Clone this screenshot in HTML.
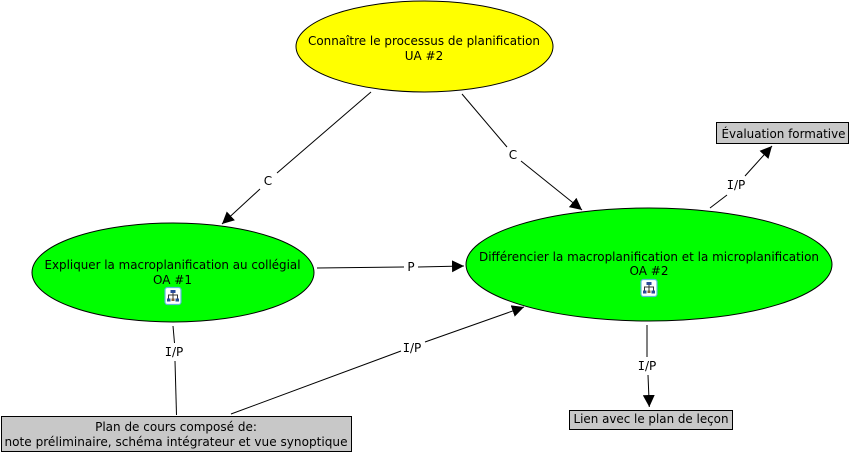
<!DOCTYPE html>
<html><head><meta charset="utf-8"><style>
html,body{margin:0;padding:0;background:#fff}
svg{display:block}
text{font-family:"DejaVu Sans","Liberation Sans",sans-serif;font-size:12px;fill:#000;text-anchor:middle}
tspan.i{font-family:"DejaVu Sans Mono","Liberation Mono",monospace}
</style></head><body>
<svg width="851" height="453" viewBox="0 0 851 453" xmlns="http://www.w3.org/2000/svg">
<defs>
<marker id="a" markerUnits="userSpaceOnUse" markerWidth="14" markerHeight="14" refX="12" refY="6" orient="auto"><path d="M0 0L12 6L0 12Z" fill="#000"/></marker>
<g id="ic">
<rect x="-8" y="-8.500" width="16" height="17" rx="2.500" fill="#fff" stroke="#5cb8d8" stroke-width="1.200"/>
<path d="M-4.500 3V-1H4.500V3M0-3V4" fill="none" stroke="#333" stroke-width="1"/>
<rect x="-2.500" y="-6" width="5" height="3" fill="#2a4a9a"/>
<rect x="-6" y="2.500" width="3.500" height="3" fill="#2a4a9a"/>
<rect x="2.500" y="2.500" width="3.500" height="3" fill="#2a4a9a"/>
<rect x="-1.500" y="2.500" width="3" height="2.500" fill="#8a5a3a"/>
</g>
</defs>
<ellipse cx="424.500" cy="46.500" rx="128.500" ry="45.500" fill="#ff0" stroke="#000"/>
<ellipse cx="173" cy="272.500" rx="141" ry="49.500" fill="#0f0" stroke="#000"/>
<ellipse cx="649" cy="264.500" rx="183" ry="56.500" fill="#0f0" stroke="#000"/>
<rect x="716.500" y="122.500" width="132" height="21" fill="#c8c8c8" stroke="#000"/>
<rect x="569.500" y="410.500" width="163" height="19" fill="#c8c8c8" stroke="#000"/>
<rect x="1.500" y="416.500" width="350" height="35" fill="#c8c8c8" stroke="#000"/>
<g stroke="#000" stroke-width="1" fill="none">
<path d="M371 92L277 173"/><path d="M260 189L222 224" marker-end="url(#a)"/>
<path d="M462 94L507 147"/><path d="M521 161L582 210" marker-end="url(#a)"/>
<path d="M710 208L727 195"/><path d="M745 176L772 146" marker-end="url(#a)"/>
<path d="M647 325V357"/><path d="M648 375L649.300 407" marker-end="url(#a)"/>
<path d="M173 326L174.500 343"/><path d="M175 361L176.500 415"/>
<path d="M231 414L401 351"/><path d="M425 342L524 307" marker-end="url(#a)"/>
<path d="M317 268L404 267"/><path d="M418 267L464 266" marker-end="url(#a)"/>
</g>
<text x="424" y="45" textLength="232" lengthAdjust="spacingAndGlyphs">Connaître le processus de planification</text>
<text x="424" y="60">UA #2</text>
<text x="172.500" y="269" textLength="256" lengthAdjust="spacingAndGlyphs">Expliquer la macroplanification au collégial</text>
<text x="172.500" y="284">OA #1</text>
<use href="#ic" x="173" y="296"/>
<text x="649" y="261" textLength="340" lengthAdjust="spacingAndGlyphs">Différencier la macroplanification et la microplanification</text>
<text x="649" y="275">OA #2</text>
<use href="#ic" x="649" y="288"/>
<text x="783.500" y="138" textLength="124" lengthAdjust="spacingAndGlyphs">Évaluation formative</text>
<text x="651" y="423" textLength="155" lengthAdjust="spacingAndGlyphs">Lien avec le plan de leçon</text>
<text x="176" y="431">Plan de cours composé de:</text>
<text x="176" y="446" textLength="343" lengthAdjust="spacingAndGlyphs">note préliminaire, schéma intégrateur et vue synoptique</text>
<text x="268" y="185">C</text>
<text x="513" y="159">C</text>
<text x="736" y="189"><tspan class="i">I</tspan>/P</text>
<text x="647" y="370"><tspan class="i">I</tspan>/P</text>
<text x="174" y="356"><tspan class="i">I</tspan>/P</text>
<text x="412" y="352"><tspan class="i">I</tspan>/P</text>
<text x="411" y="271">P</text>
</svg>
</body></html>
